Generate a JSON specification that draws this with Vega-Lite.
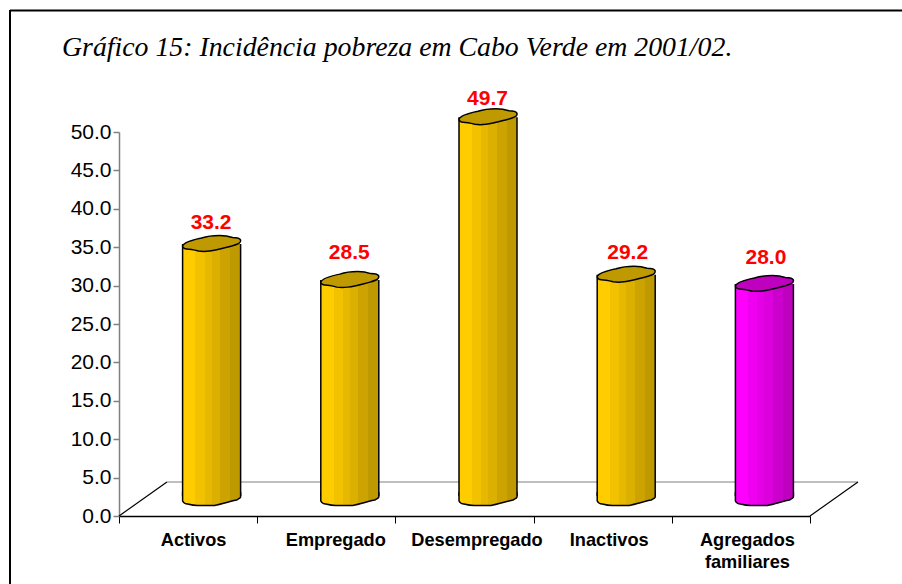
{
"$schema":"https://vega.github.io/schema/vega-lite/v6.json",
"width":892,"height":574,"padding":{"left":10,"top":10,"right":0,"bottom":0},"autosize":"none","background":"white",
"config":{"view":{"stroke":null},"font":"Liberation Sans"},
"title":{"text":"Gráfico 15: Incidência pobreza em Cabo Verde em 2001/02.","anchor":"start","frame":"group","font":"Liberation Serif","fontStyle":"italic","fontWeight":"normal","fontSize":27.8,"color":"#000000","dx":52,"dy":53,"offset":0},
"data":{"values":[
{"cat":"Activos","value":33.2},
{"cat":"Empregado","value":28.5},
{"cat":"Desempregado","value":49.7},
{"cat":"Inactivos","value":29.2},
{"cat":"Agregados familiares","value":28.0}]},
"resolve":{"scale":{"x":"independent"},"axis":{"x":"independent"}},
"layer":[
{"data":{"values":[{"frame":"edge"}]},"mark":{"type":"rule","stroke":"#000000","strokeWidth":2},"encoding":{"x":{"value":0}}},
{"data":{"values":[{"frame":"edge"}]},"mark":{"type":"rule","stroke":"#000000","strokeWidth":2},"encoding":{"y":{"value":0.5}}},
{"data":{"values":[
{"edge":"left","kind":"side","depth":0,"level":0},{"edge":"left","kind":"side","depth":0.347,"level":4.43},
{"edge":"back","kind":"back","depth":0.347,"level":4.43},{"edge":"back","kind":"back","depth":5.347,"level":4.43},
{"edge":"right","kind":"side","depth":5,"level":0},{"edge":"right","kind":"side","depth":5.347,"level":4.43}]},
"mark":{"type":"line","strokeWidth":1.2,"clip":false},
"encoding":{
"x":{"field":"depth","type":"quantitative","axis":null,"scale":{"domain":[0,5],"range":[109,800],"nice":false,"zero":false}},
"y":{"field":"level","type":"quantitative","title":null,"scale":{"domain":[0,50],"range":[506,122],"nice":false},
"axis":{"orient":"left","offset":-109,"values":[0,5,10,15,20,25,30,35,40,45,50],"format":".1f","grid":false,"domainColor":"#808080","domainWidth":1.5,"tickColor":"#808080","tickWidth":1.5,"tickSize":6,"labelFont":"Liberation Sans","labelFontSize":21,"labelColor":"#000000","labelPadding":2}},
"detail":{"field":"edge"},
"stroke":{"field":"kind","type":"nominal","legend":null,"scale":{"domain":["side","back"],"range":["#000000","#808080"]}}}},
{"encoding":{
"x":{"field":"cat","type":"nominal","sort":null,"title":null,"scale":{"type":"band","paddingInner":0,"paddingOuter":0,"range":[109,800]},
"axis":{"orient":"bottom","offset":-68,"tickBand":"extent","labelAngle":0,"domainColor":"#000000","domainWidth":1.5,"tickColor":"#000000","tickWidth":1,"tickSize":7,"labelFont":"Liberation Sans","labelFontWeight":"bold","labelFontSize":18.2,"labelColor":"#000000","labelPadding":8,"labelLimit":300,"labelLineHeight":22,
"labelOffset":{"condition":[{"test":"datum.label=='Activos'","value":5},{"test":"datum.label=='Empregado'","value":9},{"test":"datum.label=='Desempregado'","value":12}],"value":6},
"labelExpr":"datum.label=='Agregados familiares'?['Agregados','familiares']:datum.label"}},
"y":{"field":"value","type":"quantitative"}},
"layer":[
{"mark":{"type":"point","filled":true,"opacity":1,"size":4,"yOffset":-17,"xOffset":23.5,"stroke":"#000000","strokeWidth":1.5,"shape":"M-29,-6 L-29,2 C-28,4 -26,5 -24,5 C-20,6 -18,6.5 -14,6.5 L3,6.5 C10,5 20,2 25,1 C27,0 29,-1 29,-2 L29,-6 Z"},
"encoding":{"y":{"datum":0,"type":"quantitative"},
"fill":{"condition":{"test":"datum.cat=='Agregados familiares'","value":{"gradient":"linear","x1":0,"x2":1,"y1":0,"y2":0,"stops":[{"offset":0,"color":"#FF00FF"},{"offset":0.22,"color":"#FF00FF"},{"offset":0.22,"color":"#F000F0"},{"offset":0.38,"color":"#F000F0"},{"offset":0.38,"color":"#E600E6"},{"offset":0.5,"color":"#E600E6"},{"offset":0.5,"color":"#DC00DC"},{"offset":0.65,"color":"#DC00DC"},{"offset":0.65,"color":"#CC00CC"},{"offset":0.82,"color":"#CC00CC"},{"offset":0.82,"color":"#BF00BF"},{"offset":1,"color":"#BF00BF"}]}},
"value":{"gradient":"linear","x1":0,"x2":1,"y1":0,"y2":0,"stops":[{"offset":0,"color":"#FFCC00"},{"offset":0.22,"color":"#FFCC00"},{"offset":0.22,"color":"#F2C200"},{"offset":0.38,"color":"#F2C200"},{"offset":0.38,"color":"#E6B800"},{"offset":0.5,"color":"#E6B800"},{"offset":0.5,"color":"#DCB000"},{"offset":0.65,"color":"#DCB000"},{"offset":0.65,"color":"#CCA300"},{"offset":0.82,"color":"#CCA300"},{"offset":0.82,"color":"#BF9900"},{"offset":1,"color":"#BF9900"}]}}}},
{"mark":{"type":"bar","width":58,"xOffset":23.5,"yOffset":-17,"y2Offset":-20},
"encoding":{"y2":{"datum":0},
"fill":{"condition":{"test":"datum.cat=='Agregados familiares'","value":{"gradient":"linear","x1":0,"x2":1,"y1":0,"y2":0,"stops":[{"offset":0,"color":"#FF00FF"},{"offset":0.22,"color":"#FF00FF"},{"offset":0.22,"color":"#F000F0"},{"offset":0.38,"color":"#F000F0"},{"offset":0.38,"color":"#E600E6"},{"offset":0.5,"color":"#E600E6"},{"offset":0.5,"color":"#DC00DC"},{"offset":0.65,"color":"#DC00DC"},{"offset":0.65,"color":"#CC00CC"},{"offset":0.82,"color":"#CC00CC"},{"offset":0.82,"color":"#BF00BF"},{"offset":1,"color":"#BF00BF"}]}},
"value":{"gradient":"linear","x1":0,"x2":1,"y1":0,"y2":0,"stops":[{"offset":0,"color":"#FFCC00"},{"offset":0.22,"color":"#FFCC00"},{"offset":0.22,"color":"#F2C200"},{"offset":0.38,"color":"#F2C200"},{"offset":0.38,"color":"#E6B800"},{"offset":0.5,"color":"#E6B800"},{"offset":0.5,"color":"#DCB000"},{"offset":0.65,"color":"#DCB000"},{"offset":0.65,"color":"#CCA300"},{"offset":0.82,"color":"#CCA300"},{"offset":0.82,"color":"#BF9900"},{"offset":1,"color":"#BF9900"}]}}}},
{"mark":{"type":"rule","stroke":"#000000","strokeWidth":1.5,"xOffset":-5.5,"yOffset":-17,"y2Offset":-20},"encoding":{"y2":{"datum":0}}},
{"mark":{"type":"rule","stroke":"#000000","strokeWidth":1.5,"xOffset":52.5,"yOffset":-17,"y2Offset":-20},"encoding":{"y2":{"datum":0}}},
{"mark":{"type":"point","filled":true,"opacity":1,"size":4,"yOffset":-17,"xOffset":23.5,"stroke":"#000000","strokeWidth":1.5,"shape":"M-29,2 C-28,-1 -20,-4 -10,-6 C-4,-8 3,-8.5 8,-8.5 C13,-8.5 18,-7.5 21,-6.5 C24,-6.5 28,-6.5 29,-4 C29.5,-1 27,0 20,2 C12,4 6,6 -2,7 C-6,7.5 -10,7.5 -13,7 C-17,6 -22,5 -25,5 C-27,5 -29,3.5 -29,2 Z"},
"encoding":{"fill":{"condition":{"test":"datum.cat=='Agregados familiares'","value":"#BF00BF"},"value":"#BF9900"}}},
{"mark":{"type":"text","font":"Liberation Sans","fontWeight":"bold","fontSize":21,"color":"#FF0000",
"xOffset":{"expr":"datum.value==29.2||datum.value==28?25:23"},
"yOffset":{"expr":"datum.value==33.2?-38:datum.value==28.5?-44:datum.value==49.7?-35:datum.value==29.2?-39:-43"}},
"encoding":{"text":{"field":"value","type":"quantitative","format":".1f"}}}
]}
]}
